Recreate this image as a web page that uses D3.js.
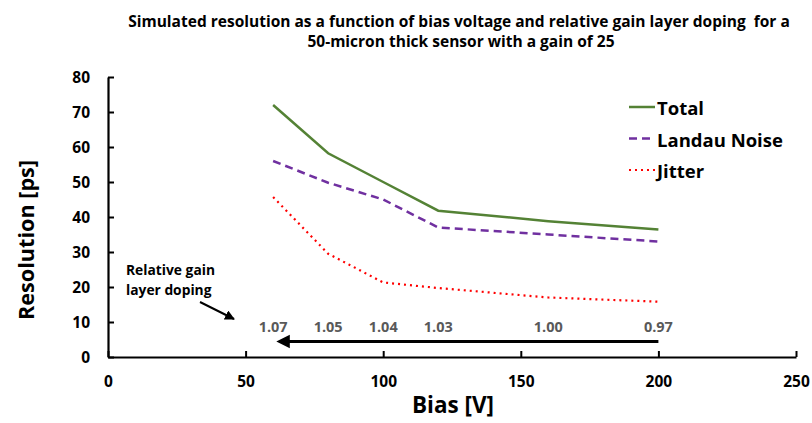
<!DOCTYPE html>
<html><head><meta charset="utf-8">
<script src="https://cdn.jsdelivr.net/npm/d3@7"></script>
<style>body{margin:0;background:#fff;} svg text{font-family:"Open Sans",Lato,sans-serif;}</style>
</head><body>
<svg id="c" width="812" height="423"></svg>
<script>
const bias = [60, 80, 100, 120, 160, 200];
const total = [72, 58.2, 50, 41.8, 38.8, 36.4];
const landau = [56, 49.8, 45, 37, 35, 33];
const jitter = [45.7, 29.5, 21.3, 19.7, 17, 15.8];
const doping = ["1.07", "1.05", "1.04", "1.03", "1.00", "0.97"];
const xTicks = [0, 50, 100, 150, 200, 250];
const yTicks = [0, 10, 20, 30, 40, 50, 60, 70, 80];
const seriesNames = ["Total", "Landau Noise", "Jitter"];
const titleLines = ["Simulated resolution as a function of bias voltage and relative gain layer doping  for a", "50-micron thick sensor with a gain of 25"];

const svg = d3.select("#c");
const x = d3.scaleLinear().domain([0, 250]).range([108, 796]);
const y = d3.scaleLinear().domain([0, 80]).range([357, 77]);

// fit font size so a text node reaches a target width
function fit(sel, w) {
  sel.each(function() {
    const fs = parseFloat(this.getAttribute("font-size"));
    const len = this.getComputedTextLength();
    this.setAttribute("font-size", (fs * w / len).toFixed(2));
  });
}

// title
const t1 = svg.append("text").attr("x", 459).attr("y", 27).attr("text-anchor", "middle")
  .attr("font-size", 13).attr("font-weight", "bold").style("white-space", "pre").text(titleLines[0]);
fit(t1, 662);
svg.append("text").attr("x", 461).attr("y", 47).attr("text-anchor", "middle")
  .attr("font-size", +t1.attr("font-size")).attr("font-weight", "bold").text(titleLines[1]);

// axes
const xa = svg.append("g").attr("transform", `translate(0,${y(0)})`)
  .call(d3.axisBottom(x).tickValues(xTicks).tickSizeInner(-6).tickSizeOuter(0).tickPadding(19));
const ya = svg.append("g").attr("transform", `translate(${x(0)},0)`)
  .call(d3.axisLeft(y).tickValues(yTicks).tickSizeInner(-6).tickSizeOuter(0).tickPadding(18));
[xa, ya].forEach(a => {
  a.select(".domain").attr("stroke", "#000").attr("stroke-width", 2.2);
  a.selectAll(".tick line").attr("stroke", "#000").attr("stroke-width", 2);
  a.selectAll("text").attr("font-size", 15.5).attr("font-weight", "bold").attr("fill", "#000")
    .attr("font-family", null);
});
ya.selectAll("text").attr("dy", "0.36em");
xa.selectAll("text").attr("dy", "0.72em");

// axis titles
const xl = svg.append("text").attr("x", 453).attr("y", 413).attr("text-anchor", "middle")
  .attr("font-size", 20).attr("font-weight", "bold").text("Bias [V]");
fit(xl, 82);
const yl = svg.append("text").attr("transform", `translate(34,${240}) rotate(-90)`)
  .attr("text-anchor", "middle").attr("font-size", 20).attr("font-weight", "bold").text("Resolution [ps]");
fit(yl, 160);

// lines
const series = [
  {name: seriesNames[0], vals: total, color: "#548235", dash: null, w: 2.5},
  {name: seriesNames[1], vals: landau, color: "#7030A0", dash: "8,5", w: 2.5},
  {name: seriesNames[2], vals: jitter, color: "#FF0000", dash: "2,4", w: 2.2},
];
const line = d3.line().x((d, i) => x(bias[i])).y(d => y(d));
series.forEach(s => {
  svg.append("path").datum(s.vals).attr("d", line).attr("fill", "none")
    .attr("stroke", s.color).attr("stroke-width", s.w)
    .attr("stroke-dasharray", s.dash);
});

// legend
const legTexts = [];
series.forEach((s, i) => {
  const ly = 107 + i * 31.5;
  svg.append("line").attr("x1", 629).attr("x2", 655).attr("y1", ly).attr("y2", ly)
    .attr("stroke", s.color).attr("stroke-width", s.w).attr("stroke-dasharray", s.dash);
  legTexts.push(svg.append("text").attr("x", 657).attr("y", ly + 8).attr("font-size", 17)
    .attr("font-weight", "bold").text(s.name));
});
fit(legTexts[1], 126);
legTexts[0].attr("font-size", legTexts[1].attr("font-size"));
legTexts[2].attr("font-size", legTexts[1].attr("font-size"));

// doping labels
const dl = svg.append("g").selectAll("text").data(doping).join("text")
  .attr("x", (d, i) => x(bias[i])).attr("y", 332).attr("text-anchor", "middle")
  .attr("font-size", 13).attr("font-weight", "bold").attr("fill", "#595959").text(d => d);
fit(dl.filter((d, i) => i === 0), 29);
dl.attr("font-size", dl.filter((d, i) => i === 0).attr("font-size"));

// arrow
const defs = svg.append("defs");
defs.append("marker").attr("id", "ah").attr("viewBox", "0 0 10 10").attr("refX", 2).attr("refY", 5)
  .attr("markerWidth", 4.5).attr("markerHeight", 5).attr("markerUnits", "strokeWidth").attr("orient", "auto")
  .append("path").attr("d", "M0,0 L10,5 L0,10 z").attr("fill", "#000");
defs.append("marker").attr("id", "ah2").attr("viewBox", "0 0 10 10").attr("refX", 9).attr("refY", 5)
  .attr("markerWidth", 5).attr("markerHeight", 5).attr("markerUnits", "strokeWidth").attr("orient", "auto")
  .append("path").attr("d", "M0,0 L10,5 L0,10 z").attr("fill", "#000");
svg.append("line").attr("x1", x(200)).attr("x2", x(60) + 14).attr("y1", y(4.4)).attr("y2", y(4.4))
  .attr("stroke", "#000").attr("stroke-width", 3).attr("marker-end", "url(#ah)");

// annotation
const ann = svg.append("g").selectAll("text").data(["Relative gain", "layer doping"]).join("text")
  .attr("x", 126).attr("y", (d, i) => 275 + i * 20).attr("font-size", 13).attr("font-weight", "bold").text(d => d);
fit(ann.filter((d, i) => i === 0), 89);
ann.filter((d, i) => i === 1).attr("font-size", ann.filter((d, i) => i === 0).attr("font-size"));
svg.append("line").attr("x1", 200).attr("y1", 302).attr("x2", 234).attr("y2", 319)
  .attr("stroke", "#000").attr("stroke-width", 2).attr("marker-end", "url(#ah2)");
</script>
</body></html>
